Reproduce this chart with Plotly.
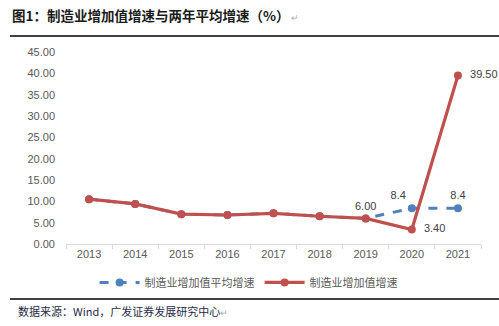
import plotly.graph_objects as go

years = ["2013", "2014", "2015", "2016", "2017", "2018", "2019", "2020", "2021"]
avg_growth = [10.5, 9.4, 7.0, 6.8, 7.2, 6.5, 6.0, 8.4, 8.4]
growth = [10.5, 9.4, 7.0, 6.8, 7.2, 6.5, 6.0, 3.4, 39.5]

avg_labels = ["", "", "", "", "", "", "6.00", "8.4", "8.4"]
avg_pos = ["top center"] * 6 + ["top center", "top left", "top center"]
growth_labels = ["", "", "", "", "", "", "", "3.40", "39.50"]
growth_pos = ["middle right"] * 9

y_ticks = [0, 5, 10, 15, 20, 25, 30, 35, 40, 45]

FONT = "Liberation Sans, Arial, Noto Sans CJK SC, sans-serif"
CJK = "Noto Sans CJK SC, sans-serif"
BLUE = "#4F81BD"
RED = "#C0504D"

fig = go.Figure()
fig.add_trace(go.Scatter(
    x=years, y=avg_growth, name="制造业增加值平均增速",
    mode="lines+markers+text",
    line=dict(color=BLUE, width=3, dash="dash"),
    marker=dict(color=BLUE, size=8),
    text=avg_labels, textposition=avg_pos, cliponaxis=False,
    textfont=dict(family=FONT, size=11, color="#404040"),
))
fig.add_trace(go.Scatter(
    x=years, y=growth, name="制造业增加值增速",
    mode="lines+markers+text",
    line=dict(color=RED, width=3.2),
    marker=dict(color=RED, size=8),
    text=[("  " + t) if t else "" for t in growth_labels], textposition=growth_pos,
    cliponaxis=False,
    textfont=dict(family=FONT, size=11, color="#404040"),
))

fig.update_layout(
    width=499, height=326,
    margin=dict(l=66, r=18, t=52, b=82),
    paper_bgcolor="white", plot_bgcolor="white",
    font=dict(family=FONT, size=11, color="#595959"),
    xaxis=dict(
        type="category", range=[-0.5, 8.5], tickson="boundaries",
        ticks="outside", ticklen=4, tickcolor="#d9d9d9",
        showline=True, linecolor="#d9d9d9", linewidth=1,
        showgrid=False, tickfont=dict(family=FONT, size=11, color="#595959"),
    ),
    yaxis=dict(
        range=[0, 45], tickvals=y_ticks, tickformat=".2f",
        showgrid=False, zeroline=False, showline=False,
        ticklabelstandoff=10,
        tickfont=dict(family=FONT, size=11, color="#595959"),
    ),
    legend=dict(
        orientation="h", x=0.44, xanchor="center", y=-0.2, yanchor="middle",
        font=dict(family=CJK, size=11, color="#595959"),
        itemwidth=40, tracegroupgap=0,
    ),
    showlegend=True,
)

fig.add_annotation(
    text="<b>图1：制造业增加值增速与两年平均增速（%）</b><span style='color:#aaaaaa;font-size:9px'> ↵</span>",
    xref="paper", yref="paper", x=-0.135, y=1.193, xanchor="left", yanchor="middle",
    showarrow=False, font=dict(family=CJK, size=13.5, color="#1a1a1a"),
)
fig.add_annotation(
    text="数据来源：Wind，广发证券发展研究中心<span style='color:#aaaaaa;font-size:9px'>↵</span>",
    xref="paper", yref="paper", x=-0.12, y=-0.349, xanchor="left", yanchor="middle",
    showarrow=False, font=dict(family=CJK, size=11, color="#1f2a44"),
)
fig.add_shape(type="line", xref="paper", yref="paper", x0=-0.135, x1=1.05, y0=1.083, y1=1.083,
              line=dict(color="black", width=1.5))
fig.add_shape(type="line", xref="paper", yref="paper", x0=-0.135, x1=1.05, y0=-0.286, y1=-0.286,
              line=dict(color="black", width=1.5))

fig.write_html("out.html")
